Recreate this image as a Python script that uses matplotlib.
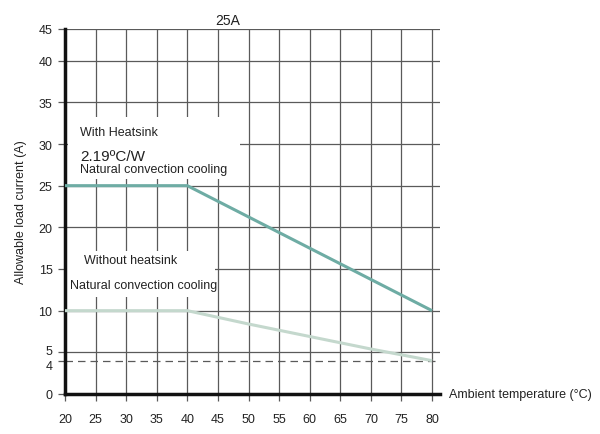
import matplotlib.pyplot as plt
from matplotlib.patches import Rectangle
from matplotlib.transforms import ScaledTranslation

plt.rcParams['font.family'] = ['Liberation Sans', 'DejaVu Sans']

# data
temp = [20, 40, 80]
with_heatsink = [25, 25, 10]
temp_nohs = [20, 40, 50, 60, 70, 80]
without_heatsink = [10, 10, 8.4, 6.9, 5.4, 4]
x_ticks = [20, 25, 30, 35, 40, 45, 50, 55, 60, 65, 70, 75, 80]
y_ticks = [0, 4, 5, 10, 15, 20, 25, 30, 35, 40]
y_top = 43.8  # top grid row is drawn compressed in the original, labelled 45
y_tick_labels = ['0', '4', '5', '10', '15', '20', '25', '30', '35', '40', '45']

fig = plt.figure(figsize=(6, 4.35), dpi=100)
ax = fig.add_axes([65 / 600, 40 / 435, 375 / 600, 365 / 435])
ax.set_xlim(20, 81.3)
ax.set_ylim(0, y_top)

grid_c = '#5a5a5a'
for x in x_ticks[1:]:
    ax.axvline(x, color=grid_c, lw=0.9, zorder=1)
for y in y_ticks[2:] + [y_top]:
    ax.axhline(y, color=grid_c, lw=0.9, zorder=1)
ax.axhline(4, color=grid_c, lw=0.9, ls=(0, (6, 4)), zorder=1)

# white boxes behind the labels
ax.add_patch(Rectangle((0.008, 0.589), 0.459, 0.17, transform=ax.transAxes,
                       facecolor='white', edgecolor='none', zorder=2))
ax.add_patch(Rectangle((0.003, 0.266), 0.397, 0.126, transform=ax.transAxes,
                       facecolor='white', edgecolor='none', zorder=2))

ax.plot(temp, with_heatsink, color='#6eaca4', lw=2.2, zorder=3, solid_capstyle='butt')
ax.plot(temp_nohs, without_heatsink, color='#c4d8cd', lw=2.2, zorder=3, solid_capstyle='butt')

txt = dict(transform=ax.transAxes, fontsize=9, color='#222222', va='center', ha='left', zorder=4)
ax.text(0.04, 0.718, 'With Heatsink', **txt)
ax.text(0.04, 0.652, '2.19ºC/W', **{**txt, 'fontsize': 11})
ax.text(0.04, 0.617, 'Natural convection cooling', **txt)
ax.text(0.051, 0.367, 'Without heatsink', **txt)
ax.text(0.013, 0.299, 'Natural convection cooling', **txt)

ax.text(0.435, 1.025, '25A', transform=ax.transAxes, fontsize=10, ha='center', va='center',
        color='#222222')
ax.text(1.025, 0.0, 'Ambient temperature (°C)', transform=ax.transAxes, fontsize=9,
        ha='left', va='center', color='#222222')
ax.set_ylabel('Allowable load current (A)', fontsize=9, color='#222222', labelpad=8)

ax.set_xticks(x_ticks)
ax.set_yticks(y_ticks + [y_top])
ax.set_yticklabels(y_tick_labels)
ax.tick_params(axis='both', labelsize=9, colors='#222222', length=5, width=0.9)
ax.tick_params(axis='x', color=grid_c, pad=9)
ax.tick_params(axis='y', color=grid_c, pad=4)

# nudge the "4" and "5" labels apart like in the original
lbls = ax.get_yticklabels()
lbls[1].set_transform(lbls[1].get_transform() + ScaledTranslation(0, -3 / 72, fig.dpi_scale_trans))
lbls[2].set_transform(lbls[2].get_transform() + ScaledTranslation(0, 2 / 72, fig.dpi_scale_trans))

for s in ['top', 'right']:
    ax.spines[s].set_visible(False)
ax.spines['left'].set_linewidth(2.5)
ax.spines['bottom'].set_linewidth(2.5)
ax.spines['left'].set_color('#111111')
ax.spines['bottom'].set_color('#111111')

fig.savefig('out.png', dpi=100)
